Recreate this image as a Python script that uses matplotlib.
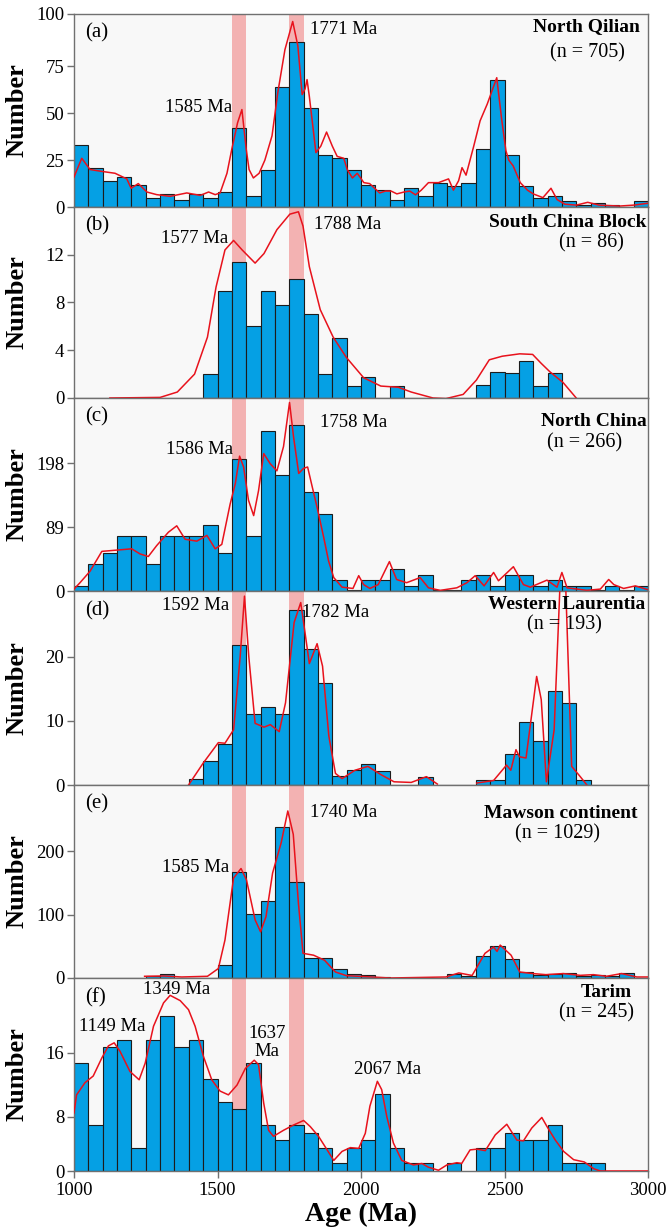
import numpy as np
import matplotlib.pyplot as plt

plt.rcParams['font.family'] = ['Liberation Serif', 'DejaVu Serif']

# histogram bins: 1000-3000 Ma, 50 Ma wide
bin_left = list(range(1000, 3000, 50))

# bar heights (one per bin)
cnt_a = [33, 21, 14, 16, 12, 5, 7, 4, 7, 5, 8, 42, 6, 20, 64, 88, 53, 28, 26, 20,
         12, 9, 4, 10, 6, 13, 11, 13, 31, 68, 28, 11, 5, 6, 3, 1, 2, 1, 0, 3]
cnt_b = [0, 0, 0, 0, 0, 0, 0, 0, 0, 2, 9, 11.4, 6, 9, 7.8, 10, 7, 2, 5, 1,
         1.8, 0, 1, 0, 0, 0, 0, 0, 1.1, 2.2, 2.1, 3.1, 1.0, 2.1, 0, 0, 0, 0, 0, 0]
cnt_c = [0.73, 4.3, 6.0, 8.6, 8.6, 4.3, 8.6, 8.6, 8.6, 10.4, 6.0, 20.7, 8.6, 25.1, 18.1,
         25.9, 15.5, 12.1, 1.7, 0.1, 1.7, 1.7, 3.4, 0.8, 2.5, 0.1, 0.1, 1.7, 2.5, 0.8,
         2.5, 2.5, 0.8, 1.7, 0.8, 0.8, 0.1, 0.8, 0.1, 0.8]
cnt_d = [0, 0, 0, 0, 0, 0, 0, 0, 1.0, 3.75, 6.35, 21.8, 11.1, 12.2, 11.1, 27.2, 21.1, 15.9,
         1.35, 2.3, 3.2, 2.2, 0, 0, 1.3, 0, 0, 0, 0.8, 0.8, 4.8, 9.8, 6.8, 14.7, 12.7, 0.8,
         0, 0, 0, 0]
cnt_e = [0, 0, 0, 0, 0, 3.7, 6.9, 0, 0, 0, 20, 167, 101, 121, 238, 152, 31, 32, 14, 7,
         4, 1.6, 0, 0, 0, 0, 7, 3.7, 34, 50, 30, 9, 4, 7, 8, 3.7, 4, 3.7, 8, 0]
cnt_f = [14.3, 6.1, 16.4, 17.4, 3.0, 17.4, 20.5, 16.4, 17.4, 12.2, 9.2, 8.2, 14.3, 6.1,
         4.07, 6.1, 5.1, 3.0, 1.0, 3.0, 4.07, 10.2, 3.0, 1.0, 1.0, 0, 1.0, 0, 3.0, 3.0,
         5.1, 4.07, 4.07, 6.1, 1.0, 1.0, 1.0, 0, 0, 0]

# probability density curves
kde_a_x = [1000, 1027, 1056, 1097, 1143, 1184, 1199, 1224, 1254, 1288, 1335, 1393, 1440,
           1469, 1492, 1509, 1533, 1550, 1570, 1585, 1600, 1610, 1625, 1645, 1665, 1690,
           1710, 1735, 1762, 1780, 1795, 1805, 1812, 1820, 1843, 1860, 1880, 1900, 1917,
           1940, 1952, 1970, 1987, 2010, 2030, 2065, 2085, 2105, 2125, 2150, 2170, 2190,
           2210, 2235, 2270, 2305, 2322, 2340, 2352, 2366, 2392, 2415, 2440, 2473, 2490,
           2505, 2515, 2530, 2555, 2580, 2600, 2634, 2662, 2683, 2710, 2750, 2790, 2830,
           2900, 2950, 3000]
kde_a_y = [16, 26, 20, 19, 18, 15, 10, 12.5, 8, 6.6, 5.7, 7.5, 6.2, 8, 6.6, 7.5, 18, 31,
           45, 52, 31, 20, 15.5, 18, 25, 38, 61, 84, 99, 86, 60, 63, 68, 59, 29, 32.5, 40,
           32.5, 27, 26, 20, 15.5, 18, 13, 12.5, 7.5, 8.5, 8.5, 7, 8, 8.5, 6.5, 9, 13, 13,
           15, 9, 14, 21, 17, 32, 46, 55, 69, 47, 30, 25, 22, 13, 9, 7, 5, 10, 4, 1.5, 1,
           2.5, 1, 0.5, 1, 2]

kde_b_x = [1125, 1300, 1360, 1420, 1465, 1495, 1526, 1556, 1586, 1631, 1662, 1707, 1752,
           1782, 1798, 1820, 1858, 1903, 1949, 2009, 2069, 2130, 2175, 2251, 2296, 2356,
           2402, 2447, 2492, 2553, 2598, 2628, 2658, 2704, 2757]
kde_b_y = [0, 0.05, 0.5, 2, 5.1, 9.3, 12.4, 13.2, 12.4, 11.3, 12.1, 14.1, 15.4, 15.6,
           14.4, 11, 7.4, 5.1, 3.4, 1.7, 1.0, 0.9, 0.5, 0, -0.05, 0.3, 1.5, 3.2, 3.5, 3.7,
           3.65, 2.9, 2.2, 1.3, -0.2]

kde_c_x = [1000, 1021, 1056, 1097, 1149, 1201, 1230, 1259, 1288, 1329, 1358, 1387, 1428,
           1463, 1492, 1515, 1544, 1562, 1577, 1591, 1608, 1626, 1643, 1661, 1684, 1707,
           1730, 1751, 1765, 1783, 1800, 1814, 1829, 1847, 1870, 1887, 1905, 1934, 1972,
           1992, 2009, 2031, 2060, 2099, 2124, 2159, 2206, 2235, 2276, 2334, 2369, 2398,
           2429, 2462, 2479, 2531, 2566, 2590, 2648, 2683, 2700, 2718, 2787, 2834, 2863,
           2881, 2915, 2956, 3000]
kde_c_y = [0.3, 1.3, 3.1, 6.2, 6.4, 6.6, 5.8, 5.4, 7.1, 9.2, 10.2, 8.1, 7.8, 8.7, 6.6,
           7.3, 13.6, 16.8, 21.1, 19.4, 14.2, 11.8, 15.7, 21.5, 19.9, 18.8, 22.6, 29.5,
           24.1, 18.4, 19.2, 19.4, 16.5, 13.1, 8.4, 4.7, 2.1, 0.6, 0.4, 2.4, 1.0, 0.4, 1.0,
           4.6, 1.8, 1.3, 2.1, 0.5, 0.1, 0.5, 1.3, 2.4, 0.8, 2.9, 1.6, 3.8, 1.0, 0.6, 1.7,
           0.6, 2.9, 0.5, 0.1, 0.3, 1.8, 1.0, 0.4, 0.8, 0.2]

kde_d_x = [1399, 1450, 1503, 1526, 1556, 1579, 1594, 1609, 1631, 1662, 1684, 1715, 1737,
           1767, 1790, 1805, 1820, 1847, 1866, 1888, 1911, 1934, 1979, 2024, 2070, 2115,
           2175, 2228, 2266, np.nan, 2403, 2462, 2507, 2522, 2540, 2552, 2575, 2612, 2628,
           2646, 2673, 2696, 2711, 2734, 2764, 2787]
kde_d_y = [0, 3.4, 6.6, 6.5, 8.6, 20, 29.4, 20, 9.6, 9, 9.4, 8.3, 12.8, 25.3, 28.4, 23.7,
           18.9, 22, 18.5, 7.6, 1.8, 1.0, 2.3, 2.9, 1.6, 0.5, 0.4, 1.3, 0.15, np.nan, 0.3,
           0.7, 3.1, 2.3, 5.5, 4.4, 4.2, 16.9, 13.3, 0.5, 8.6, 34, 34, 2.9, 1.3, 0]

kde_e_x = [1246, 1314, 1375, 1465, 1503, 1526, 1556, 1582, 1601, 1631, 1650, 1669, 1692,
           1722, 1745, 1764, 1782, 1798, 1835, 1873, 1911, 1949, 2039, 2100, 2296, 2341,
           2387, 2432, 2462, 2474, 2485, 2523, 2553, 2598, 2644, 2704, 2764, 2810, 2855,
           2908, 2961, 3000]
kde_e_y = [2.7, 3.2, 1.6, 2.7, 15, 60, 158, 173, 155, 92, 73, 97, 166, 214, 264, 227, 118,
           39, 36, 28, 9.5, 3.7, 1.6, 0, 1.6, 8, 4, 39, 49, 42, 52, 36, 9.5, 7, 5.3, 7, 4.2,
           5.3, 2.7, 7, 1.6, 1.6]

kde_f_x = [1000, 1009, 1038, 1067, 1097, 1120, 1140, 1160, 1195, 1227, 1248, 1277, 1312,
           1335, 1370, 1399, 1422, 1451, 1480, 1509, 1538, 1568, 1597, 1628, 1643, 1661,
           1678, 1695, 1730, 1765, 1800, 1823, 1852, 1882, 1905, 1934, 1963, 1992, 2015,
           2031, 2057, 2072, 2090, 2113, 2142, 2183, 2212, 2235, 2270, 2299, 2334, 2351,
           2380, 2404, 2433, 2468, 2508, 2543, 2566, 2595, 2630, 2648, 2677, 2706, 2741,
           2778, 2811, 2834, 3000]
kde_f_y = [7.7, 10.1, 11.7, 12.6, 15, 16.6, 17, 15.9, 13.2, 12.1, 14.3, 19.2, 22.3, 23.3,
           22.6, 21.4, 19.2, 15.2, 12.1, 10.6, 10.1, 11.4, 13.6, 14.7, 14.1, 9.0, 5.4, 4.6,
           5.4, 6.1, 6.7, 5.9, 4.6, 2.8, 1.4, 2.6, 3.1, 3.0, 5.0, 8.6, 11.9, 10.8, 7.2, 3.7,
           1.4, 0.8, 1.0, 0.5, 0.1, 0.8, 1.1, 1.0, 2.8, 2.9, 2.7, 4.8, 6.2, 4.1, 4.0, 5.7,
           7.1, 5.9, 4.1, 2.6, 1.5, 1.2, 0.3, 0, 0]

# panel settings
panels = [
    dict(tag='(a)', name='North Qilian', n='(n = 705)', cnt=cnt_a, kx=kde_a_x, ky=kde_a_y,
         ylim=103, ticks=[0, 25, 50, 75, 103], labels=['0', '25', '50', '75', '100'],
         name_x=0.986, name_y=0.933, n_x=0.895, n_y=0.80,
         peaks=[('1585 Ma', 1552, 53, 'right'), ('1771 Ma', 1822, 94.5, 'left')]),
    dict(tag='(b)', name='South China Block', n='(n = 86)', cnt=cnt_b, kx=kde_b_x, ky=kde_b_y,
         ylim=16, ticks=[0, 4, 8, 12], labels=['0', '4', '8', '12'],
         name_x=0.997, name_y=0.92, n_x=0.902, n_y=0.81,
         peaks=[('1577 Ma', 1537, 13.4, 'right'), ('1788 Ma', 1836, 14.5, 'left')]),
    dict(tag='(c)', name='North China', n='(n = 266)', cnt=cnt_c, kx=kde_c_x, ky=kde_c_y,
         ylim=30.2, ticks=[0, 10, 20], labels=['0', '89', '198'],
         name_x=0.998, name_y=0.88, n_x=0.89, n_y=0.77,
         peaks=[('1586 Ma', 1554, 22.1, 'right'), ('1758 Ma', 1858, 26.4, 'left')]),
    dict(tag='(d)', name='Western Laurentia', n='(n = 193)', cnt=cnt_d, kx=kde_d_x, ky=kde_d_y,
         ylim=30.2, ticks=[0, 10, 20], labels=['0', '10', '20'],
         name_x=0.995, name_y=0.928, n_x=0.855, n_y=0.825,
         peaks=[('1592 Ma', 1540, 28.0, 'right'), ('1782 Ma', 1795, 26.9, 'left')]),
    dict(tag='(e)', name='Mawson continent', n='(n = 1029)', cnt=cnt_e, kx=kde_e_x, ky=kde_e_y,
         ylim=305, ticks=[0, 100, 200], labels=['0', '100', '200'],
         name_x=0.981, name_y=0.85, n_x=0.843, n_y=0.746,
         peaks=[('1585 Ma', 1540, 175, 'right'), ('1740 Ma', 1822, 262, 'left')]),
    dict(tag='(f)', name='Tarim', n='(n = 245)', cnt=cnt_f, kx=kde_f_x, ky=kde_f_y,
         ylim=25.6, ticks=[0, 7.2, 15.7], labels=['0', '8', '16'],
         name_x=0.972, name_y=0.927, n_x=0.911, n_y=0.82,
         peaks=[('1149 Ma', 1132, 19.2, 'center'), ('1349 Ma', 1356, 24.1, 'center'),
                ('1637\nMa', 1672, 17.0, 'center'), ('2067 Ma', 2094, 13.5, 'center')]),
]

# axes rows in pixels (top, bottom)
rows = [(14, 207), (207, 398), (398, 591), (591, 785), (785, 978), (978, 1171)]
W, H = 671, 1228

bar_color = '#05a0e4'
band_color = '#f3b2b2'
kde_color = '#e8121c'
spine_color = '#707070'

fig = plt.figure(figsize=(W / 100, H / 100), dpi=100)

for i, (p, (top, bot)) in enumerate(zip(panels, rows)):
    ax = fig.add_axes([74 / W, 1 - bot / H, (648 - 74) / W, (bot - top) / H])
    ax.set_facecolor('#f8f8f8')
    ax.axvspan(1550, 1600, color=band_color, zorder=0.5, lw=0)
    ax.axvspan(1750, 1800, color=band_color, zorder=0.5, lw=0)

    xs = [b for b, c in zip(bin_left, p['cnt']) if c > 0]
    hs = [c for c in p['cnt'] if c > 0]
    ax.bar(xs, hs, width=50, align='edge', color=bar_color, edgecolor='#1c1c1c',
           linewidth=0.8, zorder=2)
    ax.plot(p['kx'], p['ky'], color=kde_color, lw=1.1, zorder=3)

    ax.set_xlim(1000, 3000)
    ax.set_ylim(0, p['ylim'])
    ax.set_yticks(p['ticks'])
    ax.set_yticklabels(p['labels'])
    ax.tick_params(axis='y', direction='out', length=5, width=1, color=spine_color,
                   labelsize=13.5, pad=2)
    for s in ax.spines.values():
        s.set_color(spine_color)
        s.set_linewidth(1.0)

    ax.set_ylabel('Number', fontsize=19, fontweight='bold')
    ax.yaxis.set_label_coords(-0.08, 0.5)

    if i < len(panels) - 1:
        ax.tick_params(axis='x', bottom=False, labelbottom=False)
    else:
        ax.set_xticks([1000, 1500, 2000, 2500, 3000])
        ax.tick_params(axis='x', direction='out', length=5, width=1, color=spine_color,
                       labelsize=13.5, pad=3)
        ax.set_xlabel('Age (Ma)', fontsize=20, fontweight='bold', labelpad=2)

    ax.text(0.02, 0.90, p['tag'], transform=ax.transAxes, fontsize=15,
            ha='left', va='center')
    ax.text(p['name_x'], p['name_y'], p['name'], transform=ax.transAxes, fontsize=14,
            fontweight='bold', ha='right', va='center')
    ax.text(p['n_x'], p['n_y'], p['n'], transform=ax.transAxes, fontsize=14.5,
            ha='center', va='center')
    for label, x, y, ha in p['peaks']:
        ax.text(x, y, label, fontsize=13.5, ha=ha, va='center', zorder=4,
                linespacing=1.1)

fig.savefig('out.png', dpi=100)
